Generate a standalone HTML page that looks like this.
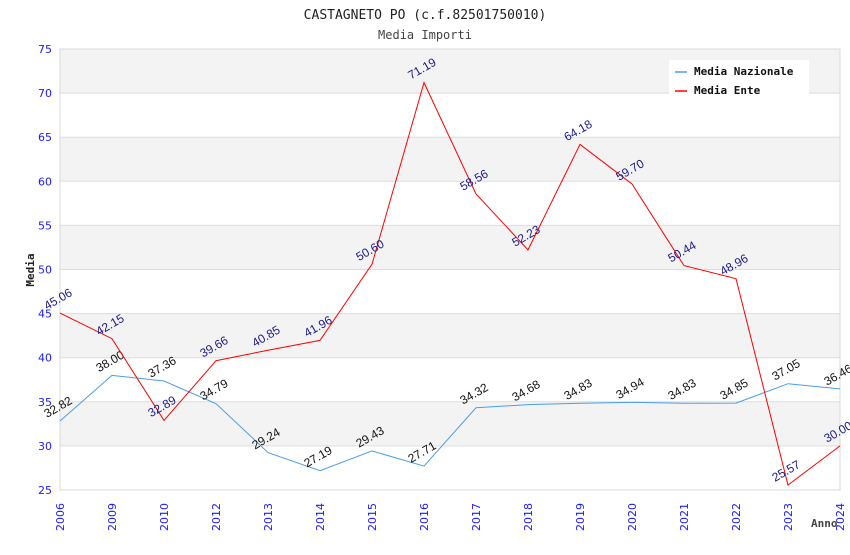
<!DOCTYPE html>
<html><head><meta charset="utf-8"><style>
body{margin:0;background:#fff;width:850px;height:550px;overflow:hidden}
svg{font-family:"DejaVu Sans Mono","Liberation Mono",monospace}
.sans{font-family:"DejaVu Sans","Liberation Sans",sans-serif}
.lab{font-family:"Liberation Sans","DejaVu Sans",sans-serif}
</style></head><body>
<svg id="c" width="850" height="550" xmlns="http://www.w3.org/2000/svg">
<text x="425" y="19" text-anchor="middle" font-size="13" fill="#222">CASTAGNETO PO (c.f.82501750010)</text>
<text x="425" y="39" text-anchor="middle" font-size="12" fill="#444">Media Importi</text>
<g id="grid"></g><g id="marks"></g>
<text transform="translate(34,270) rotate(-90)" text-anchor="middle" font-size="11" font-weight="bold" fill="#222">Media</text>
<text x="811" y="527" font-size="11" font-weight="bold" fill="#444">Anno</text>
<g>
<rect x="669" y="60" width="140" height="40" fill="#fff"/>
<line x1="675" y1="72" x2="687" y2="72" stroke="#4a9ee8" stroke-width="1.5"/>
<text x="694" y="75" font-size="11" font-weight="bold" fill="#111">Media Nazionale</text>
<line x1="675" y1="91" x2="687" y2="91" stroke="#f00" stroke-width="1.5"/>
<text x="694" y="94" font-size="11" font-weight="bold" fill="#111">Media Ente</text>
</g>
</svg>
<script>
const years=["2006","2009","2010","2012","2013","2014","2015","2016","2017","2018","2019","2020","2021","2022","2023","2024"];
const nazionale=[32.82,38.00,37.36,34.79,29.24,27.19,29.43,27.71,34.32,34.68,34.83,34.94,34.83,34.85,37.05,36.46];
const ente=[45.06,42.15,32.89,39.66,40.85,41.96,50.60,71.19,58.56,52.23,64.18,59.70,50.44,48.96,25.57,30.00];
const yTicks=[25,30,35,40,45,50,55,60,65,70,75];
const L=60,R=840,T=49,B=490,ymin=25,ymax=75;
const X=i=>L+i*(R-L)/(years.length-1);
const Y=v=>B-(v-ymin)/(ymax-ymin)*(B-T);
const NS="http://www.w3.org/2000/svg";
function mk(t,a,p){const e=document.createElementNS(NS,t);for(const k in a)e.setAttribute(k,a[k]);p.appendChild(e);return e;}
const g=document.getElementById('grid'),m=document.getElementById('marks');
for(let i=0;i<yTicks.length-1;i++){
 if((yTicks.length-2-i)%2===0){const r=mk('rect',{x:L,y:Y(yTicks[i+1]),width:R-L,height:Y(yTicks[i])-Y(yTicks[i+1]),fill:'#f3f3f3'},g);
 
 }
}
yTicks.forEach(v=>{
 const l=mk('line',{x1:L,x2:R,y1:Y(v),y2:Y(v),stroke:'#ddd'},g);
 
 
 const t=mk('text',{x:L-8,y:Y(v)+4,'text-anchor':'end','font-size':11,fill:'#1a1aff','class':'sans'},g);t.textContent=v;
 
 
});
mk('rect',{x:L,y:T,width:R-L,height:B-T,fill:'none',stroke:'#d8d8d8'},g);
years.forEach((y,i)=>{
 const t=mk('text',{transform:`translate(${X(i)+4},${B+41}) rotate(-90)`,'font-size':11,fill:'#1a1aff','class':'sans'},g);t.textContent=y;
 
 
});
function series(d,col,lc,name){
 const p=mk('polyline',{points:d.map((v,i)=>X(i)+','+Y(v)).join(' '),fill:'none',stroke:col,'stroke-width':1},m);
 
 
 d.forEach((v,i)=>{const t=mk('text',{transform:`translate(${X(i)-13},${Y(v)-3}) rotate(-30)`,'font-size':12,fill:lc,'class':'lab'},m);t.textContent=v.toFixed(2);
 
 });
}
series(nazionale,'#4a9ee8','#111','nazionale');
series(ente,'#f00','#1a1a8c','ente');
</script>
</body></html>
